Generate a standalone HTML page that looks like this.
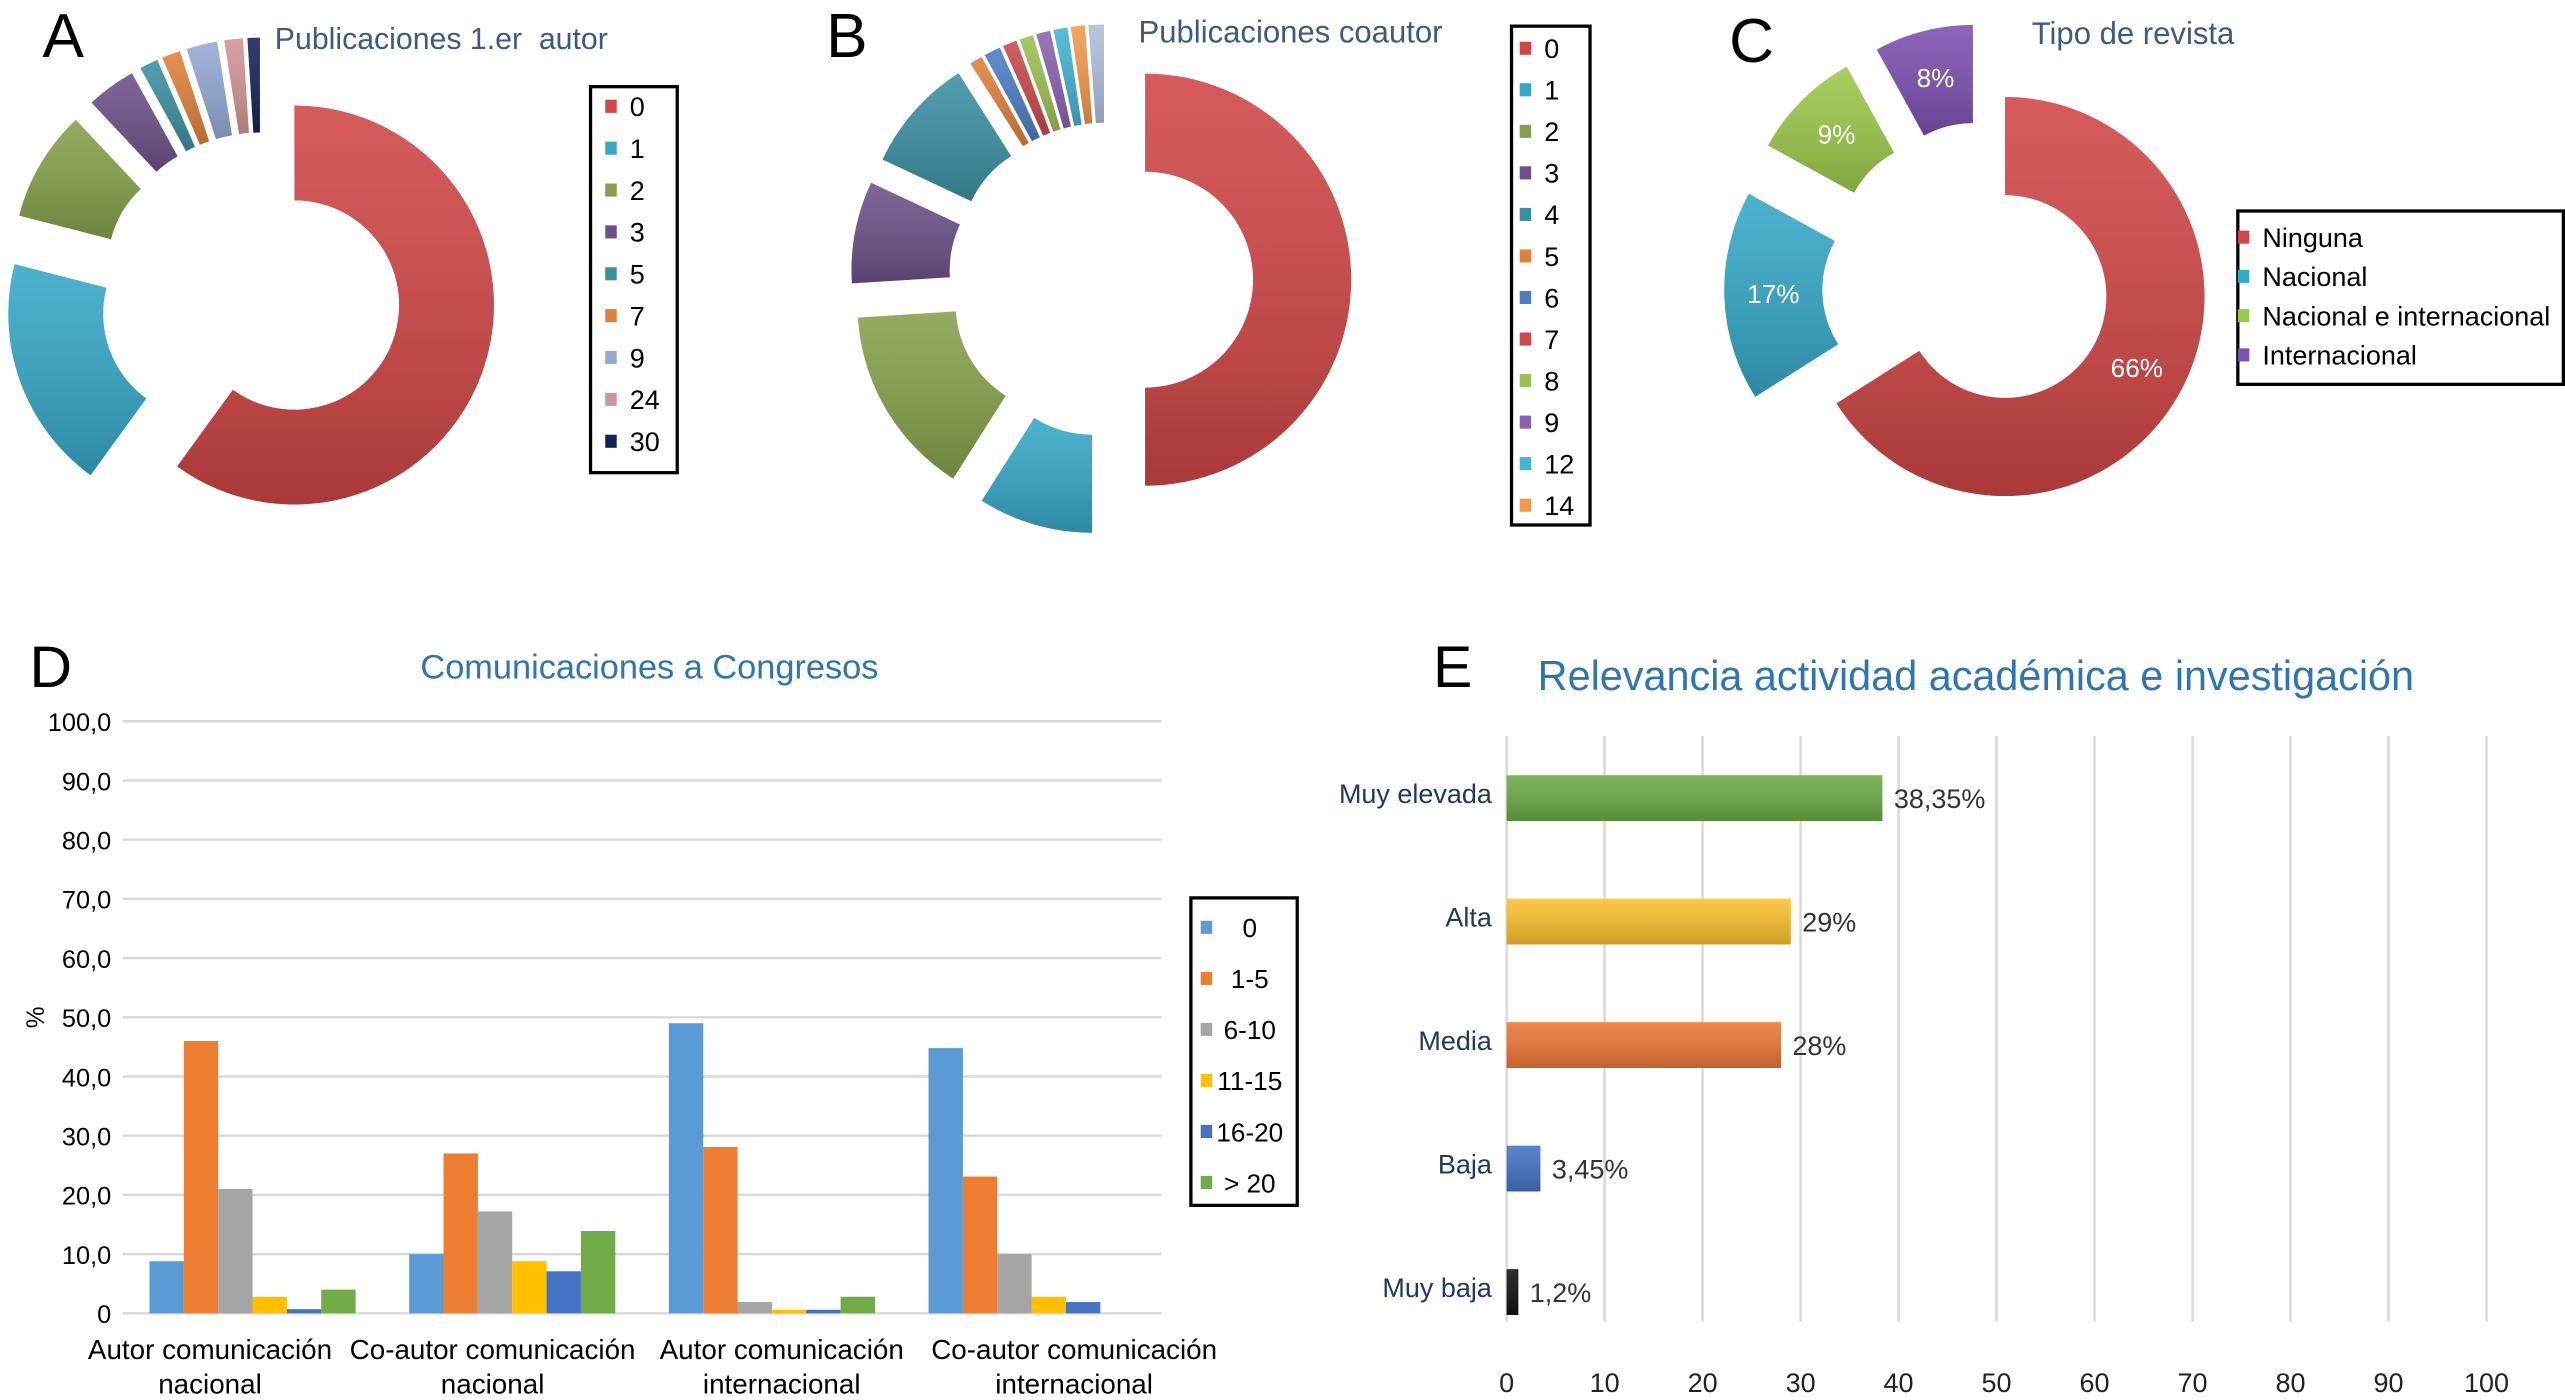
<!DOCTYPE html>
<html><head><meta charset="utf-8">
<style>
html,body{margin:0;padding:0;background:#fff;}
svg{display:block;font-family:"Liberation Sans",sans-serif;}
</style></head>
<body>
<svg id="root" width="2565" height="1400" viewBox="0 0 1568 856" preserveAspectRatio="none" xmlns="http://www.w3.org/2000/svg">
<defs>
<linearGradient id="shade" x1="0" y1="0" x2="0" y2="1">
<stop offset="0" stop-color="#fff" stop-opacity="0.12"/>
<stop offset="1" stop-color="#000" stop-opacity="0.18"/>
</linearGradient>
</defs>
<g id="gA"></g>
<g id="gB"></g>
<g id="gC"></g>
<g id="gD"></g>
<g id="gE"></g>
</svg>
<script>
// ---- Panel A data ----
const aLabels = ["0","1","2","3","5","7","9","24","30"];
const aValues = [60,19,9,4,1.5,1.5,2.5,1.5,1];
const aColors = ["#d04545","#35a7c7","#85a04a","#6b5188","#3b8fa2","#e0803a","#94aad4","#d39494","#13235a"];
// ---- Panel B data ----
const bLabels = ["0","1","2","3","4","5","6","7","8","9","12","14"];
const bValues = [50,9,15,8,9,1,1.3,1.1,1.1,1.1,1.1,1.1,1.2];
const bColors = ["#d04545","#35a7c7","#85a04a","#6b5188","#3b8fa2","#e0803a","#4a7fc4","#c9484e","#9cc052","#8a62b0","#41b4cf","#f39a4a","#aebfdc"];
// ---- Panel C data ----
const cLabels = ["Ninguna","Nacional","Nacional e internacional","Internacional"];
const cValues = [66,17,9,8];
const cColors = ["#d04545","#35a7c7","#9cc84a","#7c4fb0"];
// ---- Panel D data ----
const dCategories = [["Autor comunicación","nacional"],["Co-autor comunicación","nacional"],["Autor comunicación","internacional"],["Co-autor comunicación","internacional"]];
const dSeriesNames = ["0","1-5","6-10","11-15","16-20","> 20"];
const dS0 = [8.8,10,49,44.8];
const dS1 = [46,27,28.1,23.1];
const dS2 = [21,17.2,1.9,10];
const dS3 = [2.8,8.8,0.6,2.8];
const dS4 = [0.7,7.1,0.6,1.9];
const dS5 = [4,13.9,2.8,0];
const dTicks = ["0","10,0","20,0","30,0","40,0","50,0","60,0","70,0","80,0","90,0","100,0"];
// ---- Panel E data ----
const eCategories = ["Muy elevada","Alta","Media","Baja","Muy baja"];
const eValues = [38.35,29,28,3.45,1.2];
const eValueLabels = ["38,35%","29%","28%","3,45%","1,2%"];
const eTicks = [0,10,20,30,40,50,60,70,80,90,100];

const NS="http://www.w3.org/2000/svg";
function mk(parent,tag,attrs,text){const e=document.createElementNS(NS,tag);for(const k in attrs)e.setAttribute(k,attrs[k]);if(text!==undefined)e.textContent=text;parent.appendChild(e);return e;}
function pt(cx,cy,r,a){const t=a*Math.PI/180;return [cx+r*Math.sin(t),cy-r*Math.cos(t)];}
function arcPath(cx,cy,R,r,a0,a1){
  const large=(a1-a0)>180?1:0;
  const p0=pt(cx,cy,R,a0),p1=pt(cx,cy,R,a1),p2=pt(cx,cy,r,a1),p3=pt(cx,cy,r,a0);
  return `M${p0[0]},${p0[1]} A${R},${R} 0 ${large} 1 ${p1[0]},${p1[1]} L${p2[0]},${p2[1]} A${r},${r} 0 ${large} 0 ${p3[0]},${p3[1]} Z`;
}
function donut(g,values,colors,cx,cy,R,r,explodes,pctLabels){
  const tot=values.reduce((s,v)=>s+v,0);let a=0;
  values.forEach((v,i)=>{
    const a1=a+v/tot*360;const mid=(a+a1)/2;const ex=explodes[i]!==undefined?explodes[i]:explodes[explodes.length-1];
    const o=pt(0,0,ex,mid);
    const d=arcPath(cx+o[0],cy+o[1],R,r,a,a1);
    const s=mk(g,'path',{d:d,fill:colors[i%colors.length]});
    
    
    const sh=mk(g,'path',{d:d,fill:'url(#shade)'});
    
    
    if(pctLabels){const lp=pt(cx+o[0],cy+o[1],(R+r)/2,mid);
      const t=mk(g,'text',{x:lp[0],y:lp[1]+5,'text-anchor':'middle','font-size':16,fill:'#fff'},Math.round(v/tot*100)+'%');
      
      }
    a=a1;
  });
}
function legendBox(g,labels,colors,x,y,w,h,y0,step,tx,fs,anchor,swx){
  const b=mk(g,'rect',{x:x,y:y,width:w,height:h,fill:'#fff',stroke:'#000','stroke-width':2});
  
  
  labels.forEach((l,i)=>{
    const yy=y0+i*step;
    const sw=mk(g,'rect',{x:swx!==undefined?swx:tx-15,y:yy-4,width:7,height:8,fill:colors[i]});
    
    
    const t=mk(g,'text',{x:tx,y:yy+6,'font-size':fs,fill:'#000','text-anchor':anchor||'start'},l);
    
    
  });
}
function label(g,x,y,txt,attrs,name){const t=mk(g,'text',Object.assign({x:x,y:y},attrs),txt);return t;}

// Panel A
const gA=document.getElementById('gA');
label(gA,26,35,"A",{'font-size':38},'panel-letter-a');
label(gA,168,30,"Publicaciones 1.er\u00a0\u00a0autor",{'font-size':18.5,fill:'#3b5a84'},'chart-title-a');
donut(gA,aValues,aColors,160,180,122,64,[21,35,35,35,35,35,35,35,35]);
legendBox(gA,aLabels,aColors,361,53,53,236,65,25.6,385,16.5);

// Panel B
const gB=document.getElementById('gB');
label(gB,505,35,"B",{'font-size':38},'panel-letter-b');
label(gB,696,26,"Publicaciones coautor",{'font-size':19,fill:'#3b5a84'},'chart-title-b');
donut(gB,bValues,bColors,676,171,126,66,[24,30,30,30,30,30]);
legendBox(gB,bLabels,bColors,924,16,48,305,29.5,25.4,944,16.5);

// Panel C
const gC=document.getElementById('gC');
label(gC,1057,38,"C",{'font-size':38},'panel-letter-c');
label(gC,1242,27,"Tipo de revista",{'font-size':19,fill:'#3b5a84'},'chart-title-c');
donut(gC,cValues,cColors,1216,176,122,62,[11,40,40,40],true);
legendBox(gC,cLabels,cColors,1368,129,199,106,145,24,1383,16.5);

// Panel D
const gD=document.getElementById('gD');
label(gD,18,420,"D",{'font-size':36},'panel-letter-d');
label(gD,397,415,"Comunicaciones a Congresos",{'font-size':21,fill:'#2e75b6','text-anchor':'middle'},'chart-title-d');
const dX0=75,dX1=710,dY0=803,dY100=441;
const dy=v=>dY0-(v/100)*(dY0-dY100);
dTicks.forEach((t,i)=>{const v=i*10;const yy=dy(v);
  const ln=mk(gD,'line',{x1:dX0,x2:dX1,y1:yy,y2:yy,stroke:'#d9d9d9','stroke-width':1.5});
  
  
  label(gD,68,yy+6,t,{'font-size':15.5,'text-anchor':'end',fill:'#000'},'y-tick-label');});
label(gD,0,0,"%",{'font-size':15,transform:'translate(27,622) rotate(-90)','text-anchor':'middle'},'y-axis-title');
const dSeries=[dS0,dS1,dS2,dS3,dS4,dS5];
const dColors=["#5b9bd5","#ed7d31","#a5a5a5","#ffc000","#4472c4","#70ad47"];
const dLabelShift=[-26,-12,6,26];
const band=(dX1-dX0)/dCategories.length, bw=21;
dCategories.forEach((c,ci)=>{
  const gx=dX0+band*ci+band/2;
  dSeries.forEach((s,si)=>{
    const x=gx-3*bw+si*bw;const v=s[ci];
    if(v>0){const r=mk(gD,'rect',{x:x,y:dy(v),width:bw,height:dY0-dy(v),fill:dColors[si]});
    
    }
  });
  label(gD,gx+dLabelShift[ci],831,c[0],{'font-size':17,'text-anchor':'middle'},'x-category-label');
  label(gD,gx+dLabelShift[ci],852,c[1],{'font-size':17,'text-anchor':'middle'},'x-category-label');
});
legendBox(gD,dSeriesNames,dColors,728,549,65,188,567,31.2,764,16,'middle',734);

// Panel E
const gE=document.getElementById('gE');
label(gE,876,420,"E",{'font-size':36},'panel-letter-e');
label(gE,940,422,"Relevancia actividad académica e investigación",{'font-size':25.3,fill:'#2e75b6'},'chart-title-e');
const eX0=921,eX100=1520;
const ex=v=>eX0+(v/100)*(eX100-eX0);
eTicks.forEach(t=>{const xx=ex(t);
  const ln=mk(gE,'line',{x1:xx,x2:xx,y1:450,y2:808,stroke:'#d9d9d9','stroke-width':1.5});
  
  
  label(gE,xx,851,String(t),{'font-size':16.5,'text-anchor':'middle',fill:'#222'},'x-tick-label');});
const eColors=["#6aab44","#fbc02d","#ee7536","#4472c4","#111111"];
eCategories.forEach((c,i)=>{
  const yc=488+i*75.5;
  const r=mk(gE,'rect',{x:eX0,y:yc-14,width:ex(eValues[i])-eX0,height:28,fill:eColors[i]});
  
  
  const sh=mk(gE,'rect',{x:eX0,y:yc-14,width:ex(eValues[i])-eX0,height:28,fill:'url(#shade)'});
  
  
  label(gE,912,yc+3,c,{'font-size':16.5,'text-anchor':'end',fill:'#1f3864'},'y-category-label');
  label(gE,ex(eValues[i])+7,yc+6,eValueLabels[i],{'font-size':16.5,fill:'#333'},'value-label');
});
</script>
</body></html>
